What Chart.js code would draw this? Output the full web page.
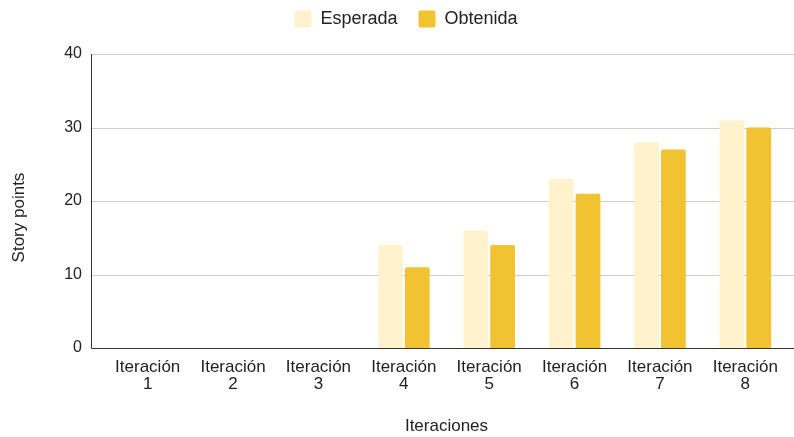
<!DOCTYPE html>
<html>
<head>
<meta charset="utf-8">
<script src="https://cdn.jsdelivr.net/npm/chart.js@4/dist/chart.umd.min.js"></script>
<style>
	html, body { margin: 0; padding: 0; background: #fff; }
	#wrap { width: 794px; height: 437px; }
</style>
</head>
<body>
<div id="wrap"><canvas id="barChart" width="794" height="437"></canvas></div>
<script>
// data
var iteraciones = [["Iteración", "1"], ["Iteración", "2"], ["Iteración", "3"], ["Iteración", "4"],
	["Iteración", "5"], ["Iteración", "6"], ["Iteración", "7"], ["Iteración", "8"]];
var esperada = [0, 0, 0, 14, 16, 23, 28, 31];
var obtenida = [0, 0, 0, 11, 14, 21, 27, 30];
var yTicks = [0, 10, 20, 30, 40];

var $esperadaColor = "#fff2cc";
var $obtenidaColor = "#f1c232";
var $gridColor = "#cccccc";
var $axisColor = "#333333";

Chart.defaults.font.family = "'Liberation Sans', Arial, sans-serif";
Chart.defaults.color = "#222";

// grid lines reach a bit past the plot, like the sheets chart
var sheetGrid = {
	id: 'sheetGrid',
	beforeUpdate: function (chart) {
		// keep the legend block tall so the plot starts lower
		var lg = chart.legend;
		if (lg && !lg._patched) {
			var fit = lg.fit;
			lg.fit = function () {
				fit.call(this);
				this.height = 65;
			};
			lg._patched = true;
		}
	},
	afterLayout: function (chart) {
		// legend sits a little right of centre in the original
		chart.legend.left += 12;
		chart.legend.right += 12;
	},
	beforeDatasetsDraw: function (chart) {
		var ctx = chart.ctx;
		var area = chart.chartArea;
		var y = chart.scales.y;
		var left = area.left - 14;
		var right = chart.width;
		ctx.save();
		ctx.strokeStyle = $gridColor;
		ctx.lineWidth = 1;
		yTicks.forEach(function (t) {
			if (t === 0) return;
			var py = Math.round(y.getPixelForValue(t)) + 0.5;
			ctx.beginPath();
			ctx.moveTo(left, py);
			ctx.lineTo(right, py);
			ctx.stroke();
		});
		ctx.restore();
	},
	afterDatasetsDraw: function (chart) {
		var ctx = chart.ctx;
		var area = chart.chartArea;
		var y = chart.scales.y;
		var left = area.left - 14 + 0.5;
		var py = Math.round(y.getPixelForValue(0)) + 0.5;
		ctx.save();
		ctx.strokeStyle = $axisColor;
		ctx.lineWidth = 1;
		ctx.beginPath();
		ctx.moveTo(left, Math.round(y.getPixelForValue(40)));
		ctx.lineTo(left, py);
		ctx.lineTo(chart.width, py);
		ctx.stroke();
		ctx.restore();
	}
};

var ctxB = document.getElementById("barChart").getContext('2d');

var myBarChart = new Chart(ctxB, {
	type: 'bar',
	plugins: [sheetGrid],
	data: {
		labels: iteraciones,
		datasets: [{
			label: "Esperada",
			data: esperada,
			backgroundColor: $esperadaColor,
			borderRadius: 2,
			barPercentage: 0.92,
			categoryPercentage: 0.63
		}, {
			label: "Obtenida",
			data: obtenida,
			backgroundColor: $obtenidaColor,
			borderRadius: 2,
			barPercentage: 0.92,
			categoryPercentage: 0.63
		}]
	},
	options: {
		responsive: false,
		animation: false,
		layout: {
			padding: { top: -11, right: 6, bottom: 0, left: 0 }
		},
		plugins: {
			legend: {
				position: 'top',
				labels: {
					boxWidth: 17,
					boxHeight: 17,
					padding: 21,
					font: { size: 18 },
					useBorderRadius: true,
					borderRadius: 2
				}
			},
			tooltip: { enabled: false }
		},
		scales: {
			x: {
				grid: { display: false, drawTicks: false },
				border: { display: false },
				ticks: {
					font: { size: 17, lineHeight: 1.0 },
					padding: 11,
					maxRotation: 0
				},
				title: {
					display: true,
					text: "Iteraciones",
					font: { size: 17 },
					padding: { top: 18, bottom: 0 }
				},
				afterFit: function (scale) {
					scale.height = 89;
				}
			},
			y: {
				min: 0,
				max: 40,
				grid: { display: false, drawTicks: false },
				border: { display: false },
				afterBuildTicks: function (scale) {
					scale.ticks = yTicks.map(function (v) { return { value: v }; });
				},
				ticks: {
					font: { size: 16 },
					padding: 23
				},
				title: {
					display: true,
					// trailing spaces nudge the title a bit below the middle, as in the original
					text: "Story points       ",
					font: { size: 17 },
					padding: { top: 9, bottom: 0 }
				},
				afterFit: function (scale) {
					scale.width = 105;
				}
			}
		}
	}
});
</script>
</body>
</html>
